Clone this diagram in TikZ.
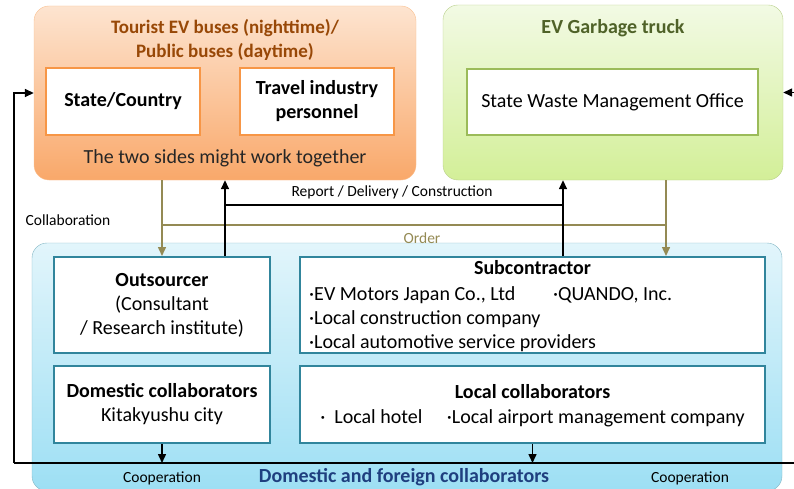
\documentclass[tikz,border=0pt]{standalone}
\usepackage{fontspec}
\setmainfont{Carlito}
\usetikzlibrary{arrows.meta,calc}
\definecolor{orgtxt}{HTML}{984807}
\definecolor{orgtop}{HTML}{FDE4D0}
\definecolor{orgbot}{HTML}{F9A86A}
\definecolor{orgline}{HTML}{F79646}
\definecolor{grntxt}{HTML}{4F6228}
\definecolor{grntop}{HTML}{F2FAE4}
\definecolor{grnbot}{HTML}{D3EF98}
\definecolor{grnline}{HTML}{9BBB59}
\definecolor{blutxt}{HTML}{1F3F7F}
\definecolor{blutop}{HTML}{E2F5FB}
\definecolor{blubot}{HTML}{9DDFF4}
\definecolor{bluline}{HTML}{31859C}
\definecolor{olive}{HTML}{948A54}
\newcommand{\bigfont}{\fontsize{20}{24}\selectfont}
\newcommand{\ttlfont}{\fontsize{19}{24}\selectfont}
\newcommand{\smallfont}{\fontsize{15.5}{18}\selectfont}
\newcommand{\bul}{\textperiodcentered}

\begin{document}
\begin{tikzpicture}[x=1pt,y=-1pt,>={Triangle[length=9pt,width=8pt]},
      tourbox/.style={rounded corners=15pt,draw=orgline!60,top color=orgtop,bottom color=orgbot},
      grnbox/.style={rounded corners=15pt,draw=grnline!70,top color=grntop,bottom color=grnbot},
      blubox/.style={rounded corners=15pt,draw=bluline!60,top color=blutop,bottom color=blubot},
      orginner/.style={draw=orgline,line width=1.5pt,fill=white},
      grninner/.style={draw=grnline,line width=1.5pt,fill=white},
      bluinner/.style={draw=bluline,line width=2pt,fill=white},
      txt/.style={font=\bigfont,align=center,inner sep=0pt},
      lbl/.style={font=\smallfont,inner sep=0pt},
      blk/.style={black,line width=1.5pt},
      olv/.style={olive,line width=1.5pt}]
      \useasboundingbox (0,0) rectangle (794,489);

      % outer boxes
      \node[tourbox,minimum width=382,minimum height=174] (tour) at (225,93) {};
      \node[grnbox,minimum width=340,minimum height=175] (grn) at (613,92.5) {};
      \node[blubox,minimum width=750,minimum height=248] (dom) at (407,367) {};

      % inner boxes
      \node[orginner,minimum width=154,minimum height=67] (state) at (123,101.5) {};
      \node[orginner,minimum width=154,minimum height=67] (travel) at (317,101.5) {};
      \node[grninner,minimum width=291,minimum height=66] (waste) at (612.5,102) {};
      \node[bluinner,minimum width=216,minimum height=96] (outs) at (162,305) {};
      \node[bluinner,minimum width=216,minimum height=77] (domc) at (162,404.5) {};
      \node[bluinner,minimum width=465,minimum height=96] (subc) at (532.5,305) {};
      \node[bluinner,minimum width=465,minimum height=77] (locc) at (532.5,404.5) {};

      % texts
      \node[txt,text=orgtxt,font=\ttlfont\bfseries] at (225,40)
        {Tourist EV buses (nighttime)/\\Public buses (daytime)};
      \node[txt,font=\bigfont\bfseries] at (state) {State/Country};
      \node[txt,font=\bigfont\bfseries] at (travel) {Travel industry\\personnel};
      \node[txt,text=black!85] at (225,158) {The two sides might work together};
      \node[txt,text=grntxt,font=\bigfont\bfseries] at (613,28) {EV Garbage truck};
      \node[txt] at (waste) {State Waste Management Office};
      \node[txt] at (outs) {\textbf{Outsourcer}\\(Consultant\\/ Research institute)};
      \node[txt] at (domc) {\textbf{Domestic collaborators}\\Kitakyushu city};
      \node[txt,font=\bigfont\bfseries] at (532.5,268) {Subcontractor};
      \node[txt,anchor=west] at (309,295) {\bul EV Motors Japan Co., Ltd};
      \node[txt,anchor=west] at (553,295) {\bul QUANDO, Inc.};
      \node[txt,anchor=west] at (309,319) {\bul Local construction company};
      \node[txt,anchor=west] at (309,343) {\bul Local automotive service providers};
      \node[txt,font=\bigfont\bfseries] at (532.5,392) {Local collaborators};
      \node[txt] at (532.5,418) {\bul\ \ Local hotel\ \quad\bul Local airport management company};
      \node[txt,text=blutxt,font=\bigfont\bfseries] at (404,477) {Domestic and foreign collaborators};

      % labels
      \node[lbl] at (392,192) {Report / Delivery / Construction};
      \node[lbl,text=olive] at (422,238) {Order};
      \node[lbl] at (68,220) {Collaboration};
      \node[lbl] at (162,478) {Cooperation};
      \node[lbl] at (690,478) {Cooperation};

      % order
      \coordinate (ol) at (162,225);
      \coordinate (or) at (666,225);
      \draw[olv,->] (tour.south -| ol) -- (outs.north -| ol);
      \draw[olv,->] (grn.south -| or) -- (subc.north -| or);
      \draw[olv] (ol) -- (or);

      % report / delivery / construction
      \coordinate (rl) at (225,205);
      \coordinate (rr) at (563,205);
      \draw[blk,->] (outs.north -| rl) -- (tour.south -| rl);
      \draw[blk,->] (subc.north -| rr) -- (grn.south -| rr);
      \draw[blk] (rl) -- (rr);

      % collaboration / cooperation
      \coordinate (cl) at (14,463);
      \coordinate (cr) at (800,463);
      \draw[blk,->] (cl) -- (cl |- tour.west) -- (tour.west);
      \draw[blk,->] (cr) -- (cr |- grn.east) -- (grn.east);
      \draw[blk] (cl) -- (cr);
      \draw[blk,->] (domc.south) -- (domc.south |- cl);
      \draw[blk,->] (locc.south) -- (locc.south |- cl);
\end{tikzpicture}
\end{document}
